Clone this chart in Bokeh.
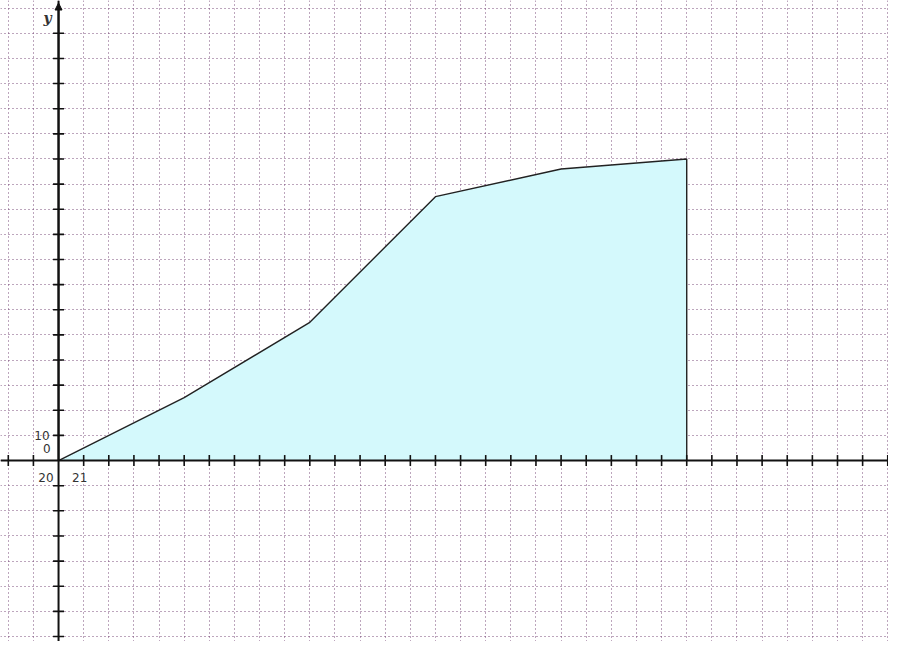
import math
from bokeh.plotting import figure
from bokeh.models import Grid, FixedTicker, Span, Arrow, NormalHead, Range1d
from bokeh.core.properties import value
from bokeh.embed import file_html
from bokeh.resources import INLINE

# data: cumulative curve (class boundaries vs cumulative value)
x_vals = [20, 25, 30, 35, 40, 45]
y_vals = [0, 25, 55, 105, 116, 120]

x_tick_labels = ["20", "21"]
y_tick_labels = ["0", "10"]

x_min, x_max = 17.69, 53.03
y_min, y_max = -72.0, 183.05

W, H = 888, 641

p = figure(width=W, height=H, output_backend="svg", toolbar_location=None,
           x_range=Range1d(x_min, x_max), y_range=Range1d(y_min, y_max),
           x_axis_type=None, y_axis_type=None, min_border=0,
           background_fill_color="white", border_fill_color="white",
           outline_line_color=None)

grid_x = list(range(18, 54))
grid_y = list(range(-70, 190, 10))

grid_color = "#6e3a6e"
p.add_layout(Grid(dimension=0, ticker=FixedTicker(ticks=grid_x),
                  grid_line_color=grid_color, grid_line_dash="1 3",
                  grid_line_width=1, grid_line_alpha=0.9))
p.add_layout(Grid(dimension=1, ticker=FixedTicker(ticks=grid_y),
                  grid_line_color=grid_color, grid_line_dash="1 3",
                  grid_line_width=1, grid_line_alpha=0.9))

# filled area under curve
patch_x = x_vals + [x_vals[-1], x_vals[0]]
patch_y = y_vals + [0, 0]
p.patch(patch_x, patch_y, fill_color="#d4f9fc", line_color=None)
p.line(x_vals + [x_vals[-1]], y_vals + [0], line_color="#222222", line_width=1.4)

# axes through origin
p.add_layout(Span(location=0, dimension="width", line_color="#111111", line_width=2))
p.add_layout(Span(location=x_vals[0], dimension="height", line_color="#111111", line_width=2))
p.add_layout(Arrow(end=NormalHead(size=7, fill_color="#111111", line_color="#111111"),
                   x_start=x_vals[0], y_start=0, x_end=x_vals[0], y_end=y_max - 1,
                   line_color="#111111", line_width=2))

# tick marks
xt = [t for t in grid_x if t != x_vals[0]]
yt = [t for t in grid_y if t != 0 and t < 180]
p.scatter(x=xt, y=[0] * len(xt), marker="dash", size=11, angle=math.pi / 2,
          line_color="#111111", line_width=1.6)
p.scatter(x=[x_vals[0]] * len(yt), y=yt, marker="dash", size=11,
          line_color="#111111", line_width=1.6)

font = value("DejaVu Sans")
fs = "12px"
p.text(x=[x_vals[0]], y=[10], text=[y_tick_labels[1]], text_font=font,
       text_font_size=fs, text_color="#333333", text_align="right",
       text_baseline="middle", x_offset=-9, y_offset=0)
p.text(x=[x_vals[0]], y=[0], text=[y_tick_labels[0]], text_font=font,
       text_font_size=fs, text_color="#333333", text_align="right",
       text_baseline="middle", x_offset=-8, y_offset=-12)
p.text(x=[20], y=[0], text=[x_tick_labels[0]], text_font=font,
       text_font_size=fs, text_color="#333333", text_align="right",
       text_baseline="middle", x_offset=-5, y_offset=17)
p.text(x=[21], y=[0], text=[x_tick_labels[1]], text_font=font,
       text_font_size=fs, text_color="#333333", text_align="center",
       text_baseline="middle", x_offset=-4, y_offset=17)
p.text(x=[x_vals[0]], y=[y_max], text=["y"], text_font=value("DejaVu Serif"),
       text_font_size="14px", text_font_style="bold italic", text_color="#333333",
       text_align="center", text_baseline="middle", x_offset=-11, y_offset=17)

open("out.html", "w").write(file_html(p, INLINE))
